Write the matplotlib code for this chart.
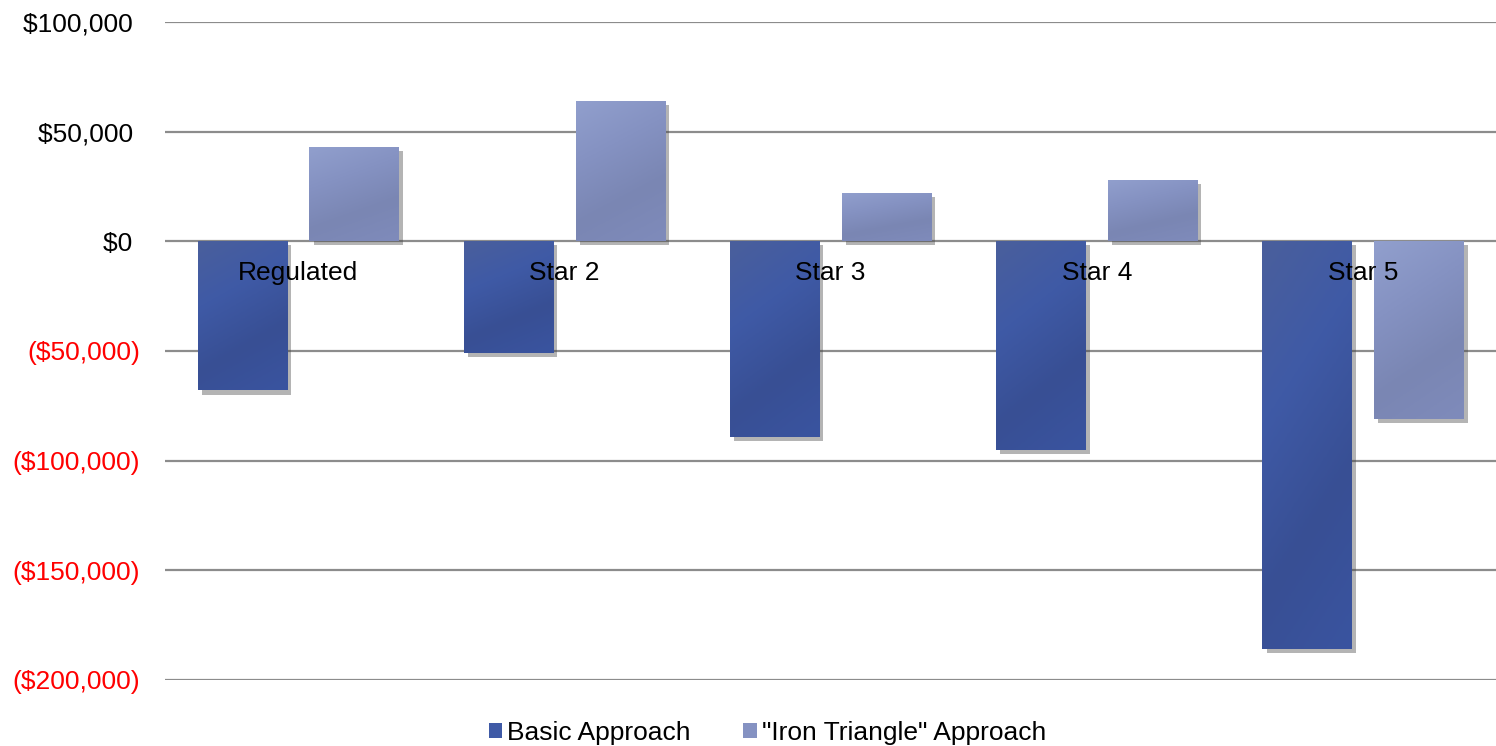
import numpy as np
import matplotlib.pyplot as plt
import matplotlib.patheffects as pe
from matplotlib.colors import LinearSegmentedColormap
from matplotlib.patches import Patch
from matplotlib.ticker import FuncFormatter

categories = ["Regulated", "Star 2", "Star 3", "Star 4", "Star 5"]
basic = [-68000, -51000, -89000, -95000, -186000]
iron_triangle = [43000, 64000, 22000, 28000, -81000]
series_names = ["Basic Approach", '"Iron Triangle" Approach']

plt.rcParams["font.family"] = ["Liberation Sans", "DejaVu Sans"]

basic_cmap = LinearSegmentedColormap.from_list("basic", ["#4a5f9c", "#3f5aa6", "#384f94", "#3a54a0"])
iron_cmap = LinearSegmentedColormap.from_list("iron", ["#919fcd", "#8592c2", "#7a86b3", "#7f8bbb"])


def money(v, pos):
    # accounting style: negatives in brackets, positives padded for the ")"
    if v < 0:
        return f"(${-v:,.0f})"
    return f"${v:,.0f} "


fig = plt.figure(figsize=(14.96, 7.46), dpi=100)
ax = fig.add_axes([0.1103, 0.0885, 0.8897, 0.882])

x = np.arange(len(categories))
width = 0.335
offset = 0.21

# diagonal gradient used to fill each bar
gy, gx = np.mgrid[0:1:100j, 0:1:40j]
grad = 0.75 * gy + 0.25 * gx

for vals, dx, cmap, base in [(basic, -offset, basic_cmap, "#3f5aa6"),
                              (iron_triangle, offset, iron_cmap, "#8592c2")]:
    bars = ax.bar(x + dx, vals, width, color=base, zorder=2)
    for b in bars:
        b.set_path_effects([pe.SimplePatchShadow(offset=(3, -3), shadow_rgbFace="#444444", alpha=0.4),
                            pe.Normal()])
        x0, y0 = b.get_x(), b.get_y()
        x1, y1 = x0 + b.get_width(), y0 + b.get_height()
        top, bot = max(y0, y1), min(y0, y1)
        im = ax.imshow(grad, cmap=cmap, extent=[x0, x1, bot, top], origin="upper",
                       aspect="auto", zorder=3)
        im.set_clip_path(b)

for i, name in enumerate(categories):
    ax.text(i, -14600, name, ha="center", va="center", fontsize=19, zorder=5)

ax.set_xlim(-0.5, len(categories) - 0.5)
ax.set_ylim(-200000, 100000)
ax.set_yticks(np.arange(-200000, 100001, 50000))
ax.yaxis.set_major_formatter(FuncFormatter(money))
ax.tick_params(axis="y", length=0, pad=18, labelsize=19)
ax.set_xticks([])
for lbl, v in zip(ax.get_yticklabels(), ax.get_yticks()):
    if v < 0:
        lbl.set_color("#ff0000")
ax.yaxis.grid(True, color="#8c8c8c", linewidth=1.6, zorder=0)
ax.set_axisbelow(True)
for s in ax.spines.values():
    s.set_visible(False)

handles = [Patch(facecolor="#3f5aa6"), Patch(facecolor="#8592c2")]
fig.legend(handles, series_names, loc="lower center", bbox_to_anchor=(0.513, -0.03), ncol=2,
           frameon=False, fontsize=19, handlelength=0.5, handleheight=0.5,
           handletextpad=0.2, columnspacing=2.0)

fig.savefig("out.png", dpi=100)
